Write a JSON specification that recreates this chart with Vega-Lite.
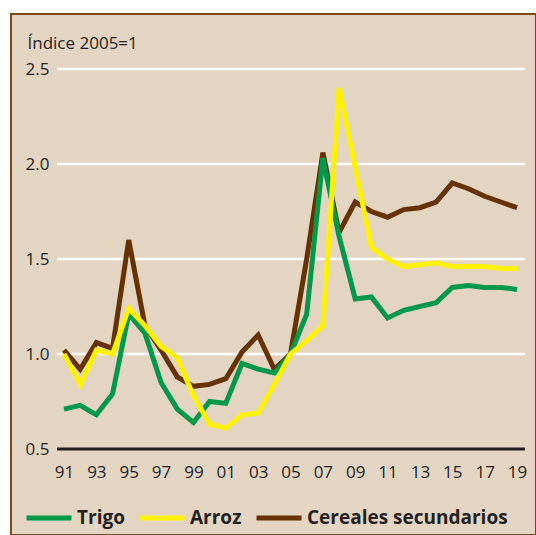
{
  "$schema": "https://vega.github.io/schema/vega-lite/v6.json",
  "width": 525,
  "height": 521,
  "autosize": {"type": "none"},
  "padding": {"left": 11, "top": 14, "right": 0, "bottom": 0},
  "background": "white",
  "config": {
    "view": {"fill": "#e4d4c2", "stroke": "#7a4a14", "strokeWidth": 2},
    "font": "Open Sans"
  },
  "resolve": {"axis": {"x": "independent", "y": "independent"}},
  "layer": [
    {
      "data": {"values": [{"value": 1.0}, {"value": 1.5}, {"value": 2.0}, {"value": 2.5}]},
      "mark": {"type": "rule", "color": "white", "strokeWidth": 2.5},
      "encoding": {
        "y": {"field": "value", "type": "quantitative", "scale": {"domain": [0.0474, 2.7895], "nice": false, "zero": false}, "axis": null},
        "x": {"datum": 1990.57, "type": "quantitative", "scale": {"domain": [1987.724, 2020.174], "nice": false, "zero": false}, "axis": null},
        "x2": {"datum": 2019.49}
      }
    },
    {
      "data": {"values": [{"value": 0.5}]},
      "mark": {"type": "rule", "color": "#231f20", "strokeWidth": 3},
      "encoding": {
        "y": {"field": "value", "type": "quantitative", "scale": {"domain": [0.0474, 2.7895], "nice": false, "zero": false}, "axis": null},
        "x": {"datum": 1990.57, "type": "quantitative", "scale": {"domain": [1987.724, 2020.174], "nice": false, "zero": false}, "axis": null},
        "x2": {"datum": 2019.49}
      }
    },
    {
      "data": {"values": [
        {"year": 1991, "Trigo": 0.71, "Arroz": 1.00, "Cereales secundarios": 1.02},
        {"year": 1992, "Trigo": 0.73, "Arroz": 0.84, "Cereales secundarios": 0.92},
        {"year": 1993, "Trigo": 0.68, "Arroz": 1.02, "Cereales secundarios": 1.06},
        {"year": 1994, "Trigo": 0.79, "Arroz": 1.00, "Cereales secundarios": 1.03},
        {"year": 1995, "Trigo": 1.21, "Arroz": 1.24, "Cereales secundarios": 1.60},
        {"year": 1996, "Trigo": 1.11, "Arroz": 1.15, "Cereales secundarios": 1.15},
        {"year": 1997, "Trigo": 0.85, "Arroz": 1.04, "Cereales secundarios": 1.02},
        {"year": 1998, "Trigo": 0.71, "Arroz": 0.98, "Cereales secundarios": 0.88},
        {"year": 1999, "Trigo": 0.64, "Arroz": 0.78, "Cereales secundarios": 0.83},
        {"year": 2000, "Trigo": 0.75, "Arroz": 0.63, "Cereales secundarios": 0.84},
        {"year": 2001, "Trigo": 0.74, "Arroz": 0.61, "Cereales secundarios": 0.87},
        {"year": 2002, "Trigo": 0.95, "Arroz": 0.68, "Cereales secundarios": 1.01},
        {"year": 2003, "Trigo": 0.92, "Arroz": 0.69, "Cereales secundarios": 1.10},
        {"year": 2004, "Trigo": 0.90, "Arroz": 0.84, "Cereales secundarios": 0.92},
        {"year": 2005, "Trigo": 1.00, "Arroz": 1.00, "Cereales secundarios": 1.00},
        {"year": 2006, "Trigo": 1.21, "Arroz": 1.07, "Cereales secundarios": 1.50},
        {"year": 2007, "Trigo": 2.03, "Arroz": 1.15, "Cereales secundarios": 2.06},
        {"year": 2008, "Trigo": 1.62, "Arroz": 2.40, "Cereales secundarios": 1.64},
        {"year": 2009, "Trigo": 1.29, "Arroz": 1.98, "Cereales secundarios": 1.80},
        {"year": 2010, "Trigo": 1.30, "Arroz": 1.56, "Cereales secundarios": 1.75},
        {"year": 2011, "Trigo": 1.19, "Arroz": 1.50, "Cereales secundarios": 1.72},
        {"year": 2012, "Trigo": 1.23, "Arroz": 1.46, "Cereales secundarios": 1.76},
        {"year": 2013, "Trigo": 1.25, "Arroz": 1.47, "Cereales secundarios": 1.77},
        {"year": 2014, "Trigo": 1.27, "Arroz": 1.48, "Cereales secundarios": 1.80},
        {"year": 2015, "Trigo": 1.35, "Arroz": 1.46, "Cereales secundarios": 1.90},
        {"year": 2016, "Trigo": 1.36, "Arroz": 1.46, "Cereales secundarios": 1.87},
        {"year": 2017, "Trigo": 1.35, "Arroz": 1.46, "Cereales secundarios": 1.83},
        {"year": 2018, "Trigo": 1.35, "Arroz": 1.45, "Cereales secundarios": 1.80},
        {"year": 2019, "Trigo": 1.34, "Arroz": 1.45, "Cereales secundarios": 1.77}
      ]},
      "transform": [{"fold": ["Cereales secundarios", "Trigo", "Arroz"], "as": ["series", "value"]}],
      "mark": {"type": "line", "strokeWidth": 5},
      "encoding": {
        "x": {
          "field": "year", "type": "quantitative",
          "scale": {"domain": [1987.724, 2020.174], "nice": false, "zero": false},
          "axis": {
            "values": [1991, 1993, 1995, 1997, 1999, 2001, 2003, 2005, 2007, 2009, 2011, 2013, 2015, 2017, 2019],
            "format": "d",
            "labelExpr": "slice(datum.label, 2)",
            "grid": false, "domain": false, "ticks": false, "tickSize": 0,
            "labelPadding": 0, "offset": -58, "labelBaseline": "alphabetic",
            "labelFontSize": 17, "labelColor": "#231f20", "labelFont": "Open Sans",
            "labelOverlap": false, "labelFlush": false, "title": null
          }
        },
        "y": {
          "field": "value", "type": "quantitative",
          "scale": {"domain": [0.0474, 2.7895], "nice": false, "zero": false},
          "axis": {
            "values": [0.5, 1, 1.5, 2, 2.5], "format": ".1f",
            "grid": false, "domain": false, "ticks": false, "tickSize": 0,
            "labelPadding": 0, "offset": -38,
            "labelFontSize": 17, "labelColor": "#231f20", "labelFont": "Open Sans",
            "labelOverlap": false, "labelFlush": false,
            "title": "Índice 2005=1", "titleAngle": 0, "titleAlign": "left",
            "titleBaseline": "alphabetic", "titleX": -22, "titleY": 34,
            "titleFontSize": 17, "titleFontWeight": "normal", "titleColor": "#231f20", "titleFont": "Open Sans"
          }
        },
        "color": {
          "field": "series", "type": "nominal",
          "scale": {"domain": ["Trigo", "Arroz", "Cereales secundarios"], "range": ["#009849", "#fff200", "#663300"]},
          "legend": {
            "orient": "none", "legendX": 13, "legendY": 479, "direction": "horizontal",
            "title": null, "symbolType": "stroke", "symbolSize": 2025, "symbolStrokeWidth": 5,
            "labelFontSize": 19, "labelFontWeight": "bold", "labelColor": "#231f20", "labelFont": "Open Sans",
            "labelOffset": 3, "columnPadding": 4, "padding": 0, "labelLimit": 400
          }
        }
      }
    }
  ]
}
